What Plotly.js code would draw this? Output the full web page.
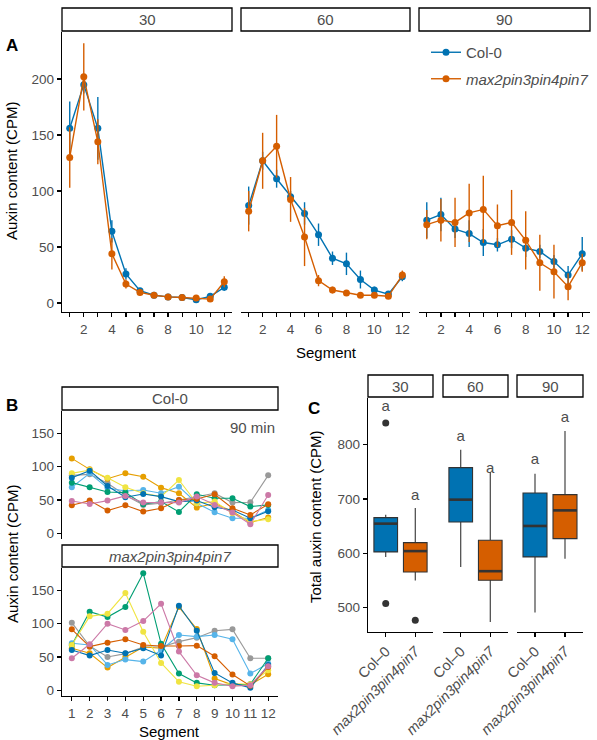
<!DOCTYPE html>
<html>
<head>
<meta charset="utf-8">
<script src="https://cdn.plot.ly/plotly-3.0.1.min.js"></script>
<style>html,body{margin:0;padding:0;background:#fff;}</style>
</head>
<body>
<div id="chart" style="width:597px;height:740px;"></div>
<script>
// ---- Panel A: mean auxin content (CPM) per segment, with standard errors ----
const segments = [1, 2, 3, 4, 5, 6, 7, 8, 9, 10, 11, 12];
const timepoints = ['30', '60', '90'];

const col30   = [156, 195, 156, 64, 26, 11, 7, 5.5, 5, 3, 6, 14];
const col30se = [24, 8, 28, 10, 5, 2, 1.5, 1, 1, 1, 1.5, 3];
const mut30   = [130, 202, 144, 44, 17, 9.5, 7, 5.5, 5, 4.5, 3.5, 19];
const mut30se = [27, 30, 20, 14, 4, 3, 1.5, 1, 1, 1, 1, 5];

const col60   = [87, 127, 111, 95, 80, 61, 40, 35, 21, 11.6, 8, 23.5];
const col60se = [17, 8, 8, 5, 10, 10, 6, 10, 8, 3, 2, 4];
const mut60   = [82, 127, 140, 92.5, 59, 20, 11.6, 9, 7, 7, 6, 25];
const mut60se = [18, 25, 28, 20, 26, 5, 3, 2, 1.5, 1.5, 1, 4];

const col90   = [74, 79, 66, 62, 54, 52, 57, 49, 46, 37, 25, 44];
const col90se = [16, 15, 8, 12, 12, 6, 8, 8, 6, 6, 8, 15];
const mut90   = [70, 74, 72, 80.5, 83.6, 69, 72, 56, 36, 28, 14.6, 36];
const mut90se = [13, 19, 22, 26, 30, 19, 29, 26, 25, 24, 12, 8];

// ---- Panel B: individual replicates at 90 min ----
const repColors = ['#999999', '#E69F00', '#56B4E9', '#009E73', '#F0E442', '#0072B2', '#D55E00', '#CC79A7'];

const colRep1 = [87, 88.5, 75, 57, 42.5, 45, 50, 55, 60, 46, 46.5, 87];
const colRep2 = [112.5, 96, 82, 90, 85, 68.5, 60, 38.5, 45, 32.5, 16, 23.5];
const colRep3 = [69, 90, 68, 63.5, 65, 60, 70, 45, 31.5, 22.5, 22.5, 35];
const colRep4 = [76, 69, 62, 61, 43.5, 47.5, 32, 58.5, 52.5, 52.5, 40, 42.5];
const colRep5 = [90, 95, 83.5, 69, 60, 55, 80, 45, 47.5, 30, 17.5, 21];
const colRep6 = [83.5, 94, 71, 54, 59, 55, 47.5, 49, 39, 35, 22.5, 33];
const colRep7 = [42, 49, 34, 42, 32.5, 37.5, 50, 51.5, 58.5, 37.5, 27.5, 43.5];
const colRep8 = [48.5, 44, 49, 56, 46, 46.5, 46, 55, 42.5, 31, 13.5, 57.5];

const mutRep1 = [101.5, 66.5, 50, 55, 65, 65, 73, 79, 89.5, 91.5, 48, 48];
const mutRep2 = [63, 55.5, 34, 50, 65, 63, 125, 92, 17.5, 8, 8, 24];
const mutRep3 = [70.5, 68, 38, 46, 43, 60, 83, 80.5, 83, 76.5, 25, 40];
const mutRep4 = [68, 118, 110, 125, 176, 70, 25, 11, 7.5, 8.5, 9, 48];
const mutRep5 = [68, 111, 115, 146, 88, 41, 12.5, 6, 7.5, 10, 9, 30];
const mutRep6 = [60.5, 52, 60.5, 55.5, 63, 52, 127, 89.5, 26, 11, 3.5, 38];
const mutRep7 = [91.5, 65.5, 71.5, 76.5, 68, 66.5, 66.5, 67, 51, 23.5, 6.5, 35];
const mutRep8 = [48, 69, 100, 90.5, 104, 130, 58, 22.5, 11, 6, 7.5, 36];

// ---- Panel C: total auxin content box statistics ----
const genotypeLabels = ['Col–0', '<i>max2pin3pin4pin7</i>'];
const colQ1  = [602.5, 657.7, 593.3];
const colMed = [654.6, 698.8, 650.3];
const colQ3  = [665.6, 757.7, 711];
const colLo  = [593, 574.8, 490.8];
const colHi  = [671, 790.8, 746.6];
const mutQ1  = [565.6, 550.3, 627];
const mutMed = [604, 567, 679];
const mutQ3  = [619.6, 624, 708];
const mutLo  = [550, 473.6, 590];
const mutHi  = [683.4, 749.7, 825];
const colOutliers = [[840, 507.4], [], []];
const mutOutliers = [[476.7], [], []];
const colLetterY = [869, 814, 771];
const mutLetterY = [705, 754, 848];
const sigLetters = ['a', 'a', 'a'];

// ---------------------------------------------------------------
const W = 597, H = 740;
const px = x => x / W;
const py = y => 1 - y / H;
const BLUE = '#0072B2', ORANGE = '#D55E00';
const FONT = 'Liberation Sans, Arial, Helvetica, sans-serif';
const TICKGREY = '#4d4d4d';

const traces = [];

// Panel A traces
const aSets = [
  [col30, col30se, mut30, mut30se, 'x'],
  [col60, col60se, mut60, mut60se, 'x2'],
  [col90, col90se, mut90, mut90se, 'x3']
];
aSets.forEach((s, i) => {
  [[s[0], s[1], BLUE, 'Col-0', 'col'], [s[2], s[3], ORANGE, '<i>max2pin3pin4pin7</i>', 'mut']].forEach(g => {
    traces.push({
      type: 'scatter', mode: 'lines+markers',
      x: segments, y: g[0], xaxis: s[4], yaxis: 'y',
      line: {color: g[2], width: 1.4},
      marker: {color: g[2], size: 7},
      error_y: {type: 'data', array: g[1], visible: true, width: 0, thickness: 1.4, color: g[2]},
      name: g[3], legendgroup: g[4], showlegend: i === 0
    });
  });
});

// Panel B traces
const colReps = [colRep1, colRep2, colRep3, colRep4, colRep5, colRep6, colRep7, colRep8];
const mutReps = [mutRep1, mutRep2, mutRep3, mutRep4, mutRep5, mutRep6, mutRep7, mutRep8];
[[colReps, 'y2'], [mutReps, 'y3']].forEach(p => {
  p[0].forEach((vals, k) => {
    traces.push({
      type: 'scatter', mode: 'lines+markers',
      x: segments, y: vals, xaxis: 'x4', yaxis: p[1],
      line: {color: repColors[k], width: 1.1},
      marker: {color: repColors[k], size: 6},
      showlegend: false, hoverinfo: 'y'
    });
  });
});

// Panel C traces
const cAxes = ['x5', 'x6', 'x7'];
const BOXW = 0.8;
timepoints.forEach((t, i) => {
  const groups = [
    [1, colQ1[i], colMed[i], colQ3[i], colLo[i], colHi[i], BLUE, colOutliers[i], colLetterY[i]],
    [2, mutQ1[i], mutMed[i], mutQ3[i], mutLo[i], mutHi[i], ORANGE, mutOutliers[i], mutLetterY[i]]
  ];
  groups.forEach(g => {
    traces.push({
      type: 'box', x: [g[0]], q1: [g[1]], median: [g[2]], q3: [g[3]],
      lowerfence: [g[4]], upperfence: [g[5]],
      xaxis: cAxes[i], yaxis: 'y4',
      fillcolor: g[6], line: {color: '#333333', width: 1.1},
      width: BOXW, whiskerwidth: 0, boxpoints: false, showlegend: false
    });
    // thicker median bar
    traces.push({
      type: 'scatter', mode: 'lines',
      x: [g[0] - BOXW / 2, g[0] + BOXW / 2], y: [g[2], g[2]],
      xaxis: cAxes[i], yaxis: 'y4',
      line: {color: '#333333', width: 2.6}, showlegend: false, hoverinfo: 'skip'
    });
    if (g[7].length) {
      traces.push({
        type: 'scatter', mode: 'markers',
        x: g[7].map(() => g[0]), y: g[7],
        xaxis: cAxes[i], yaxis: 'y4',
        marker: {color: '#333333', size: 7}, showlegend: false
      });
    }
    traces.push({
      type: 'scatter', mode: 'text',
      x: [g[0]], y: [g[8]], text: [sigLetters[i]],
      textfont: {family: FONT, size: 15, color: TICKGREY},
      xaxis: cAxes[i], yaxis: 'y4', showlegend: false, hoverinfo: 'skip'
    });
  });
});

// ---- axes ----
const baseAxis = {
  showline: true, linecolor: '#000', linewidth: 1.3,
  ticks: 'outside', ticklen: 4, tickwidth: 1.2, tickcolor: '#000',
  tickfont: {family: FONT, size: 13.5, color: TICKGREY},
  showgrid: false, zeroline: false, fixedrange: true
};
const evenLabels = segments.map(s => (s % 2 === 0 ? String(s) : ''));
const aX = (dom) => Object.assign({}, baseAxis, {
  domain: dom, range: [0.45, 12.55], anchor: 'y',
  tickmode: 'array', tickvals: segments, ticktext: evenLabels
});
const cX = (dom) => Object.assign({}, baseAxis, {
  domain: dom, range: [0.4, 2.6], anchor: 'y4',
  tickmode: 'array', tickvals: [1, 2], ticktext: genotypeLabels, tickangle: -45,
  tickfont: {family: FONT, size: 14.5, color: TICKGREY}
});

const layout = {
  width: W, height: H,
  margin: {l: 0, r: 0, t: 0, b: 0},
  paper_bgcolor: '#fff', plot_bgcolor: 'rgba(0,0,0,0)',
  font: {family: FONT, color: '#000'},
  showlegend: true,
  legend: {
    x: px(426), y: py(36), xanchor: 'left', yanchor: 'top',
    bgcolor: 'rgba(0,0,0,0)', borderwidth: 0,
    font: {family: FONT, size: 15, color: TICKGREY},
    traceorder: 'grouped', tracegroupgap: 4, itemwidth: 30
  },
  xaxis: aX([px(62), px(232)]),
  xaxis2: aX([px(241), px(410)]),
  xaxis3: aX([px(419), px(590)]),
  yaxis: Object.assign({}, baseAxis, {
    domain: [py(312), py(32)], range: [-8, 242], anchor: 'x',
    tickmode: 'array', tickvals: [0, 50, 100, 150, 200]
  }),
  xaxis4: Object.assign({}, baseAxis, {
    domain: [px(62), px(278)], range: [0.45, 12.55], anchor: 'y3',
    tickmode: 'array', tickvals: segments, ticktext: segments.map(String)
  }),
  yaxis2: Object.assign({}, baseAxis, {
    domain: [py(539), py(411)], range: [-8.75, 183.75], anchor: 'x4',
    tickmode: 'array', tickvals: [0, 50, 100, 150]
  }),
  yaxis3: Object.assign({}, baseAxis, {
    domain: [py(696), py(568)], range: [-8.75, 183.75], anchor: 'x4',
    tickmode: 'array', tickvals: [0, 50, 100, 150]
  }),
  xaxis5: cX([px(368), px(433)]),
  xaxis6: cX([px(443), px(508)]),
  xaxis7: cX([px(517), px(583)]),
  yaxis4: Object.assign({}, baseAxis, {
    domain: [py(632), py(398)], range: [455, 886], anchor: 'x5',
    tickmode: 'array', tickvals: [500, 600, 700, 800]
  }),
  shapes: [],
  annotations: []
};

// facet strips
const strips = [
  [62, 8, 232, 31, '30'], [241, 8, 410, 31, '60'], [419, 8, 590, 31, '90'],
  [62, 387, 278, 410, 'Col-0'], [62, 545, 278, 567, '<i>max2pin3pin4pin7</i>'],
  [368, 375, 433, 397, '30'], [443, 375, 508, 397, '60'], [517, 375, 583, 397, '90']
];
strips.forEach(s => {
  layout.shapes.push({
    type: 'rect', xref: 'paper', yref: 'paper',
    x0: px(s[0]), x1: px(s[2]), y0: py(s[3]), y1: py(s[1]),
    line: {color: '#000', width: 1.3}, fillcolor: '#fff', layer: 'above'
  });
  layout.annotations.push({
    xref: 'paper', yref: 'paper', x: px((s[0] + s[2]) / 2), y: py((s[1] + s[3]) / 2),
    text: s[4], showarrow: false, xanchor: 'center', yanchor: 'middle',
    font: {family: FONT, size: 15, color: TICKGREY}
  });
});

function label(x, y, text, opts) {
  layout.annotations.push(Object.assign({
    xref: 'paper', yref: 'paper', x: px(x), y: py(y), text: text,
    showarrow: false, xanchor: 'center', yanchor: 'middle',
    font: {family: FONT, size: 15, color: '#000'}
  }, opts || {}));
}
label(12, 171, 'Auxin content (CPM)', {textangle: -90});
label(326, 352, 'Segment');
label(12, 554, 'Auxin content (CPM)', {textangle: -90});
label(170, 731, 'Segment');
label(315, 517, 'Total auxin content (CPM)', {textangle: -90});
label(277, 427, '90 min', {xanchor: 'right', font: {family: FONT, size: 15, color: TICKGREY}});
label(12, 45, '<b>A</b>', {font: {family: FONT, size: 17, color: '#000'}});
label(12, 406, '<b>B</b>', {font: {family: FONT, size: 17, color: '#000'}});
label(314, 408, '<b>C</b>', {font: {family: FONT, size: 17, color: '#000'}});

Plotly.newPlot('chart', traces, layout, {displayModeBar: false, staticPlot: true});
</script>
</body>
</html>
